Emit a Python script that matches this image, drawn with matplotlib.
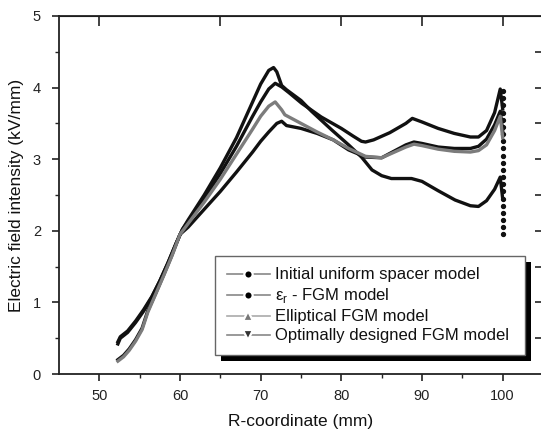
import matplotlib
matplotlib.use("Agg")
import matplotlib.pyplot as plt
from matplotlib.lines import Line2D
from matplotlib.patches import Rectangle

plt.rcParams['font.family'] = ['Liberation Sans', 'DejaVu Sans']

# ---- data ----
x_opt = [52.3, 52.6, 53.5, 54.5, 55.5, 56.5, 57.5, 58.5, 59.5, 60.3, 61, 63, 65, 67, 69, 70, 71, 71.6,
         72, 72.6, 73.2, 75, 76.3, 78.8, 80.9, 82.5, 83.8, 85, 86.2, 88.7, 90, 92, 94.1, 96, 97, 98, 99, 99.7, 100]
y_opt = [0.42, 0.5, 0.58, 0.72, 0.88, 1.07, 1.3, 1.55, 1.82, 2.02, 2.15, 2.5, 2.88, 3.3, 3.8, 4.05, 4.24, 4.28,
         4.22, 4.03, 3.97, 3.82, 3.67, 3.41, 3.2, 3.03, 2.85, 2.77, 2.73, 2.73, 2.69, 2.56, 2.43, 2.35, 2.34, 2.42, 2.58, 2.75, 2.45]

x_uni = [52.3, 52.6, 53.5, 54.5, 55.5, 56.5, 57.5, 58.5, 59.5, 60.3, 61, 63, 65, 67, 69, 70, 71, 71.8,
         72.6, 73.5, 75.1, 77.5, 80, 81.5, 82.5, 83, 84, 86, 88, 88.8, 90, 92, 94, 96, 97, 98, 99, 99.7, 100]
y_uni = [0.45, 0.52, 0.6, 0.74, 0.9, 1.08, 1.3, 1.55, 1.82, 2.02, 2.13, 2.45, 2.8, 3.18, 3.6, 3.8, 3.98, 4.06,
         4.01, 3.93, 3.78, 3.59, 3.43, 3.32, 3.25, 3.24, 3.27, 3.37, 3.5, 3.57, 3.52, 3.43, 3.36, 3.31, 3.31, 3.4, 3.65, 3.98, 3.7]

x_ell = [52.3, 53.0, 53.7, 54.5, 55.3, 56, 57, 58, 59, 60, 61, 63, 65, 67, 69, 70, 71, 71.8,
         72.6, 73, 75, 77, 79, 80.9, 83, 85, 86, 88, 89, 90, 92, 94, 96, 97, 98, 99, 99.7, 100]
y_ell = [0.18, 0.24, 0.33, 0.46, 0.62, 0.86, 1.12, 1.38, 1.65, 1.95, 2.1, 2.4, 2.72, 3.07, 3.42, 3.6, 3.74, 3.8,
         3.69, 3.62, 3.5, 3.38, 3.27, 3.15, 3.04, 3.02, 3.07, 3.17, 3.21, 3.19, 3.14, 3.11, 3.1, 3.12, 3.2, 3.4, 3.6, 3.3]

x_eps = [52.3, 53.0, 53.7, 54.5, 55.3, 56, 57, 58, 59, 60, 61, 63, 65, 67, 69, 70, 71, 72, 72.6,
         73.2, 75, 77, 79, 80.9, 83, 85, 86, 88, 89, 90, 92, 94, 96, 97, 98, 99, 99.7, 100]
y_eps = [0.2, 0.26, 0.35, 0.48, 0.64, 0.88, 1.13, 1.39, 1.66, 1.95, 2.05, 2.3, 2.55, 2.82, 3.1, 3.25, 3.38, 3.5, 3.53,
         3.47, 3.43, 3.36, 3.27, 3.13, 3.03, 3.02, 3.08, 3.2, 3.24, 3.22, 3.17, 3.15, 3.15, 3.18, 3.28, 3.48, 3.67, 3.4]

tail_x = [100, 100, 100, 100, 100, 100, 100, 100, 100, 100, 100, 100, 100, 100, 100, 100, 100, 100, 100, 100, 100]
tail_y = [3.95, 3.85, 3.75, 3.65, 3.55, 3.45, 3.35, 3.25, 3.15, 3.05, 2.95, 2.85, 2.75, 2.65, 2.55, 2.45, 2.35,
          2.25, 2.15, 2.05, 1.95]

labels = ["Initial uniform spacer model", "ε$_\\mathregular{r}$ - FGM model",
          "Elliptical FGM model", "Optimally designed FGM model"]
xticks = [50, 60, 70, 80, 90, 100]
yticks = [0, 1, 2, 3, 4, 5]

# ---- figure ----
fig = plt.figure(figsize=(5.41, 4.32), dpi=100)
ax = fig.add_axes([59 / 541, 1 - 374 / 432, 484 / 541, 358 / 432])

lw = 2.4
ax.plot(x_opt, y_opt, color='#111111', lw=lw, zorder=3)
ax.plot(x_uni, y_uni, color='#111111', lw=lw, zorder=3)
ax.plot(x_eps, y_eps, color='#111111', lw=lw, zorder=3)
ax.plot(x_ell, y_ell, color='#7c7c7c', lw=lw, zorder=3.5)
ax.plot(tail_x, tail_y, color='#111111', lw=1.5, ls='none', marker='o', ms=2.8, zorder=3)

ax.set_xlim(45, 105)
ax.set_ylim(0, 5)
ax.set_xticks(xticks)
ax.set_xticks([55, 65, 75, 85, 95], minor=True)
ax.set_yticks(yticks)
ax.set_yticks([0.5, 1.5, 2.5, 3.5, 4.5], minor=True)

for s in ax.spines.values():
    s.set_linewidth(1.3)
    s.set_color('#222222')

ax.tick_params(axis='both', which='major', direction='out', length=5, width=1.2,
               labelsize=10.5, colors='#222222', pad=3)
ax.tick_params(axis='both', which='minor', direction='out', length=3, width=1.0, colors='#222222')
ax.tick_params(axis='y', which='major', pad=8)
ax.tick_params(axis='x', which='major', pad=6)

# top ticks (inward) and right ticks (inward)
axt = ax.secondary_xaxis('top')
axt.set_xticks([50, 65, 80, 90, 100])
axt.tick_params(direction='in', length=7, width=1.2, colors='#222222')
axt.set_xticklabels([])
axr = ax.secondary_yaxis('right')
axr.set_yticks([0.5, 1, 1.5, 2, 2.5, 3, 3.5, 4, 4.5])
axr.tick_params(direction='in', length=6, width=1.2, colors='#222222')
axr.set_yticklabels([])

ax.set_xlabel("R-coordinate (mm)", fontsize=12.5, color='#111111', labelpad=8)
ax.set_ylabel("Electric field intensity (kV/mm)", fontsize=12.5, color='#111111', labelpad=6)

# legend
handles = [
    Line2D([], [], color='#888888', lw=1.2, marker='o', ms=6, mfc='k', mec='white', mew=1.6),
    Line2D([], [], color='#888888', lw=1.2, marker='o', ms=6, mfc='k', mec='white', mew=1.6),
    Line2D([], [], color='#aaaaaa', lw=1.2, marker='^', ms=6.5, mfc='#777777', mec='white', mew=1.6),
    Line2D([], [], color='#888888', lw=1.2, marker='v', ms=6.5, mfc='#333333', mec='white', mew=1.6),
]
leg = ax.legend(handles, labels, loc='lower left', bbox_to_anchor=(0.322, 0.053, 0.641, 0.27),
                mode='expand', borderaxespad=0, fontsize=12, frameon=True, fancybox=False,
                framealpha=1, facecolor='white',
                handlelength=2.6, handletextpad=0.3, labelspacing=0.24, borderpad=0.7)
leg.get_frame().set_edgecolor('#666666')
leg.get_frame().set_linewidth(1.0)
leg.set_zorder(6)
for t in leg.get_texts():
    t.set_color('#111111')

fig.canvas.draw()
bb = leg.get_window_extent()
inv = ax.transAxes.inverted()
(x0, y0) = inv.transform((bb.x0 + 6, bb.y0 - 6))
(x1, y1) = inv.transform((bb.x1 + 6, bb.y1 - 6))
ax.add_patch(Rectangle((x0, y0), x1 - x0, y1 - y0, transform=ax.transAxes,
                       facecolor='black', edgecolor='none', zorder=5.5, clip_on=False))

fig.savefig("out.png", dpi=100)
